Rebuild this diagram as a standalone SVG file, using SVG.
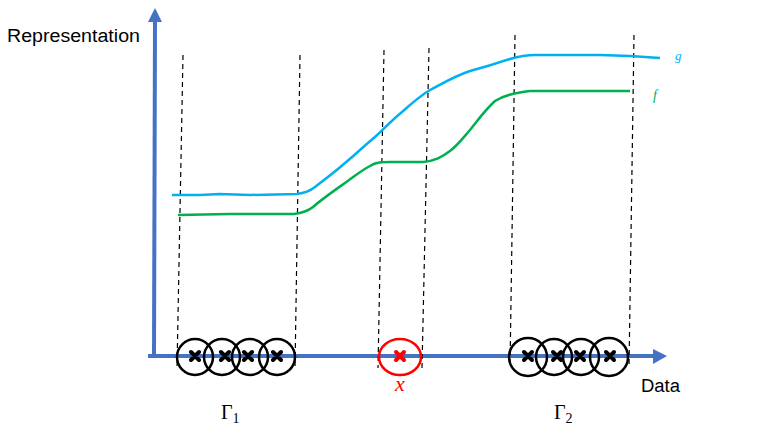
<svg xmlns="http://www.w3.org/2000/svg" width="761" height="428" viewBox="0 0 761 428">
<style>
.axis{stroke:#4472C4;stroke-width:4;fill:none}
.dash{stroke:#000;stroke-width:1.2;stroke-dasharray:5,4;fill:none}
.ring{fill:none;stroke:#000;stroke-width:2.5}
.mark{stroke:#000;stroke-width:4;stroke-linecap:round}
.lbl{font-family:"Liberation Sans",Arial,sans-serif;font-size:18px;fill:#000}
.math{font-family:"Liberation Serif","DejaVu Serif",serif;fill:#000}
</style>
<rect width="761" height="428" fill="#fff"/>
<g id="connectors">
<line class="axis" x1="154" y1="357" x2="155" y2="20"/>
<polygon points="155,8 148,22 162,22" fill="#4472C4"/>
<line class="axis" x1="148" y1="356" x2="654" y2="356"/>
<polygon points="667,356 653,349 653,364" fill="#4472C4"/>
<line class="dash" x1="183" y1="55" x2="177" y2="368"/>
<line class="dash" x1="300" y1="55" x2="295" y2="368"/>
<line class="dash" x1="384" y1="50" x2="378" y2="368"/>
<line class="dash" x1="429" y1="48" x2="422" y2="368"/>
<line class="dash" x1="515" y1="35" x2="510" y2="368"/>
<line class="dash" x1="634" y1="35" x2="629" y2="368"/>
<path d="M172,195 L200,195 L220,194 L250,195 L297,194 C305,193 310,191 315,187 C325,179 335,172 345,163 C355,155 365,145 375,137 C385,128 392,120 402,112 C412,103 420,96 430,90 C445,82 455,76 470,71 C485,67 495,64 510,59 C520,56 525,55 535,55 L600,55 L630,56 L660,58" fill="none" stroke="#00B0F0" stroke-width="2.5"/>
<path d="M178,215 L230,214 L294,214 C302,213 308,211 313,207 C322,199 335,190 345,183 C355,176 362,170 370,166 C376,162 382,162 390,162 L423,162 C435,161 442,157 450,151 C458,145 463,138 470,130 C478,120 485,110 495,101 C505,95 515,93 530,91 L630,91" fill="none" stroke="#00B050" stroke-width="2.5"/>
</g>
<g id="label-representation"><text class="lbl" x="7" y="42" textLength="133" lengthAdjust="spacingAndGlyphs">Representation</text></g>
<g id="label-data"><text class="lbl" x="641" y="392" textLength="39" lengthAdjust="spacingAndGlyphs">Data</text></g>
<g id="label-g"><text x="675" y="60" font-family="Liberation Serif,serif" font-style="italic" font-size="13" fill="#00B0F0">g</text></g>
<g id="label-f"><text x="653" y="100" font-family="Liberation Serif,serif" font-style="italic" font-size="14" fill="#00B050">f</text></g>
<g id="gamma1">
<circle class="ring" cx="195" cy="357" r="18"/>
<circle class="ring" cx="222" cy="357" r="18"/>
<circle class="ring" cx="250" cy="357" r="18"/>
<circle class="ring" cx="277" cy="357" r="18"/>
<path class="mark" d="M191,352 L199,360 M199,352 L191,360 M221,352 L229,360 M229,352 L221,360 M244,352 L252,360 M252,352 L244,360 M273,352 L281,360 M281,352 L273,360"/>
<text class="math" x="221" y="419" font-size="20">Γ<tspan font-size="14" dy="4">1</tspan></text>
</g>
<g id="x-point">
<ellipse cx="400" cy="357" rx="21" ry="18" fill="none" stroke="#FF0000" stroke-width="2.5"/>
<path d="M396,352 L404,360 M404,352 L396,360" stroke="#FF0000" stroke-width="4" stroke-linecap="round"/>
<text x="400" y="391" text-anchor="middle" font-family="Liberation Serif,serif" font-style="italic" font-size="22" fill="#FF0000">x</text>
</g>
<g id="gamma2">
<circle class="ring" cx="528" cy="357" r="19"/>
<circle class="ring" cx="554" cy="357" r="18"/>
<circle class="ring" cx="581" cy="357" r="18"/>
<circle class="ring" cx="609" cy="357" r="19"/>
<path class="mark" d="M524,352 L532,360 M532,352 L524,360 M553,352 L561,360 M561,352 L553,360 M576,352 L584,360 M584,352 L576,360 M606,352 L614,360 M614,352 L606,360"/>
<text class="math" x="554" y="419" font-size="20">Γ<tspan font-size="14" dy="4">2</tspan></text>
</g>
</svg>
